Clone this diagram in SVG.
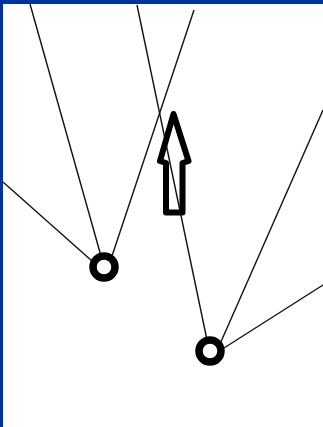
<svg xmlns="http://www.w3.org/2000/svg" width="323" height="427" viewBox="0 0 323 427">
<style>
.ln{stroke:#111;stroke-width:1.4;fill:none}
.node{fill:#fff;stroke:#000;stroke-width:7.5}
.arrow{fill:none;stroke:#000;stroke-width:6;stroke-linejoin:round}
</style>
<rect x="0" y="0" width="323" height="427" fill="#fff"/>
<rect x="0" y="0" width="323" height="4" fill="#00339c"/>
<rect x="0" y="0" width="3" height="427" fill="#00339c"/>
<g id="connectors">
<line class="ln" x1="30" y1="4" x2="101" y2="256"/>
<line class="ln" x1="194" y1="10" x2="112" y2="256"/>
<line class="ln" x1="3" y1="182" x2="92" y2="261"/>
<line class="ln" x1="137" y1="5" x2="207" y2="340"/>
<line class="ln" x1="323" y1="110" x2="220" y2="344"/>
<line class="ln" x1="323" y1="285" x2="224" y2="348"/>
</g>
<g id="node1"><circle class="node" cx="104" cy="267" r="11"/></g>
<g id="node2"><circle class="node" cx="210" cy="351" r="11"/></g>
<g id="arrow"><path class="arrow" d="M173.5,114 L188.5,161 L182.5,163 L182.5,212.5 L166,212.5 L166,163 L160,161 Z"/></g>
</svg>
